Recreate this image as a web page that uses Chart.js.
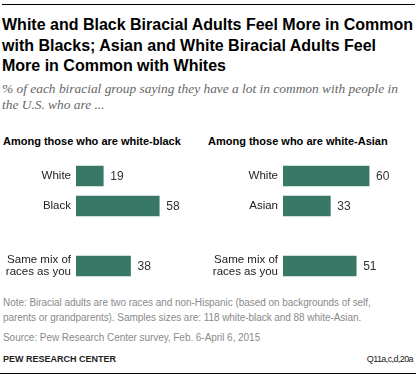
<!DOCTYPE html>
<html>
<head>
<meta charset="utf-8">
<script src="https://cdn.jsdelivr.net/npm/chart.js@4/dist/chart.umd.min.js"></script>
<style>
  html, body { margin:0; padding:0; background:#fff; }
  body { width:417px; height:381px; position:relative; overflow:hidden; font-family:"Liberation Sans", Arial, sans-serif; }
  .abs { position:absolute; white-space:nowrap; }
  #topline { left:2px; top:4px; width:413px; height:1px; background:#000; }
  #botline { left:0px; top:373px; width:416px; height:1px; background:#000; }
  #title { left:2px; top:15px; font-weight:bold; font-size:16px; line-height:20.5px; color:#000; }
  #subtitle { left:2px; top:81px; font-family:"Liberation Serif", Georgia, serif; font-style:italic; font-size:13.4px; line-height:15.5px; color:#666; }
  .ptitle { top:135px; font-weight:bold; font-size:11px; line-height:13px; color:#000; }
  #note { left:3px; top:295px; font-size:10px; line-height:15px; color:#8a8a8a; letter-spacing:-0.05px; }
  #source { left:3px; top:331px; font-size:10px; line-height:13px; color:#8a8a8a; letter-spacing:-0.05px; }
  #pew { left:3px; top:354px; font-size:9px; font-weight:bold; line-height:11px; color:#222; }
  #qref { right:4px; top:354px; font-size:9px; line-height:11px; color:#222; letter-spacing:-0.6px; }
  canvas { position:absolute; }
</style>
</head>
<body>
<div id="topline" class="abs"></div>
<div id="title" class="abs">White and Black Biracial Adults Feel More in Common<br>with Blacks; Asian and White Biracial Adults Feel<br>More in Common with Whites</div>
<div id="subtitle" class="abs">% of each biracial group saying they have a lot in common with people in<br>the U.S. who are ...</div>
<div class="abs ptitle" style="left:3px;">Among those who are white-black</div>
<div class="abs ptitle" style="left:208px;">Among those who are white-Asian</div>
<canvas id="c1" width="205" height="140" style="left:0px;top:150px;width:205px;height:140px;"></canvas>
<canvas id="c2" width="212" height="140" style="left:205px;top:150px;width:212px;height:140px;"></canvas>
<div id="note" class="abs">Note: Biracial adults are two races and non-Hispanic (based on backgrounds of self,<br>parents or grandparents). Samples sizes are: 118 white-black and 88 white-Asian.</div>
<div id="source" class="abs">Source: Pew Research Center survey, Feb. 6-April 6, 2015</div>
<div id="pew" class="abs">PEW RESEARCH CENTER</div>
<div id="qref" class="abs">Q11a,c,d,20a</div>
<div id="botline" class="abs"></div>
<script>
// ---- data ----
const whiteBlackCategories = ["White", "Black", "", ["Same mix of", "races as you"]];
const whiteBlackValues = [19, 58, null, 38];
const whiteAsianCategories = ["White", "Asian", "", ["Same mix of", "races as you"]];
const whiteAsianValues = [60, 33, null, 51];

const BAR_COLOR = "#397766";
const FONT = "'Liberation Sans', Arial, sans-serif";

const labelsPlugin = {
  id: "labelsPlugin",
  afterDatasetsDraw(chart) {
    const ctx = chart.ctx;
    const meta = chart.getDatasetMeta(0);
    const data = chart.data.datasets[0].data;
    const yScale = chart.scales.y;
    const left = chart.chartArea.left;
    ctx.save();
    // category labels
    ctx.font = "11.5px " + FONT;
    ctx.fillStyle = "#222";
    ctx.textAlign = "right";
    ctx.textBaseline = "middle";
    chart.data.labels.forEach((lab, i) => {
      const lines = Array.isArray(lab) ? lab : [lab];
      const cy = yScale.getPixelForValue(i);
      const lh = 12;
      lines.forEach((ln, j) => {
        ctx.fillText(ln, left - 5, cy + (j - (lines.length - 1) / 2) * lh);
      });
    });
    // value labels
    ctx.font = "12px " + FONT;
    ctx.fillStyle = "#333";
    ctx.textAlign = "left";
    meta.data.forEach((bar, i) => {
      if (data[i] === null || data[i] === undefined) return;
      ctx.fillText(String(data[i]), bar.x + 7, bar.y + 1);
    });
    ctx.restore();
  }
};

function makeChart(id, labels, values, axisWidth, canvasWidth) {
  return new Chart(document.getElementById(id), {
    type: "bar",
    data: {
      labels: labels,
      datasets: [{ data: values, backgroundColor: BAR_COLOR, barThickness: 20 }]
    },
    options: {
      indexAxis: "y",
      responsive: false,
      animation: false,
      layout: { padding: { top: 11, bottom: 9, left: axisWidth, right: canvasWidth - axisWidth - 114.8 } },
      plugins: { legend: { display: false }, tooltip: { enabled: false } },
      scales: {
        x: { display: false, min: 0, max: 80 },
        y: { display: false }
      }
    },
    plugins: [labelsPlugin]
  });
}

makeChart("c1", whiteBlackCategories, whiteBlackValues, 76, 205);
makeChart("c2", whiteAsianCategories, whiteAsianValues, 78, 212);
</script>
</body>
</html>
